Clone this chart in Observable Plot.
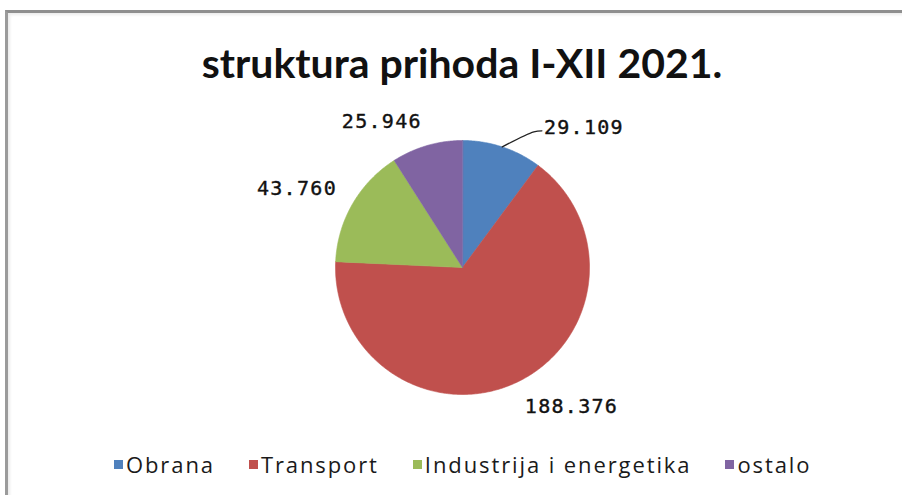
<!DOCTYPE html>
<html><head><meta charset="utf-8">
<script src="https://cdn.jsdelivr.net/npm/d3@7"></script>
<script src="https://cdn.jsdelivr.net/npm/@observablehq/plot@0.6"></script>
<style>
body{margin:0;background:#fff;}
#wrap{position:relative;width:902px;height:495px;overflow:hidden;background:#fff;}
#frame{position:absolute;left:5px;top:10px;right:-10px;bottom:-10px;border-left:3px solid #9b9b9b;border-top:3px solid #8f8f8f;box-shadow:inset 2px 2px 3px rgba(0,0,0,0.08);}
#title{position:absolute;left:0;width:924px;top:42px;text-align:center;font-family:Lato,sans-serif;font-weight:bold;font-size:41px;line-height:41px;color:#111;white-space:nowrap;}
#chart{position:absolute;left:0;top:95px;}
#legend{position:absolute;left:114px;top:454px;display:flex;align-items:center;font-family:"Open Sans",sans-serif;font-size:22px;line-height:21px;letter-spacing:1.9px;color:#1a1a1a;white-space:nowrap;}
#legend .item{display:flex;align-items:center;margin-right:34px;}
#legend .sw{width:9px;height:9px;margin-right:3px;}
</style>
</head><body>
<div id="wrap">
  <div id="frame"></div>
  <div id="title"></div>
  <div id="chart"></div>
  <div id="legend"></div>
</div>
<script>
// ---- data ----
const titleText = "struktura prihoda I-XII 2021.";
const categories = ["Obrana", "Transport", "Industrija i energetika", "ostalo"];
const values = [29109, 188376, 43760, 25946];
const colors = ["#4F81BD", "#C0504D", "#9BBB59", "#8064A2"];

// ---- layout constants ----
const W = 902, H = 350;       // svg size
const R = 127;                // pie radius in px
const CX = 462, CY = 172;     // pie centre inside svg
const labelGap = 18;          // px outside the rim
const callout = {Obrana: [36, 4]}; // label moved with a leader line (px right, px down)

const fmt = d3.formatLocale({decimal: ",", thousands: ".", grouping: [3], currency: ["", ""]}).format(",d");

const rows = categories.map((c, i) => ({name: c, value: values[i]}));
const arcs = d3.pie().sort(null).value(d => d.value).startAngle(0).endAngle(2 * Math.PI)(rows);

// slice outlines in pie units (radius = 1)
const pts = [];
for (const a of arcs) {
  const name = a.data.name;
  pts.push({name, x: 0, y: 0});
  const n = Math.max(2, Math.ceil((a.endAngle - a.startAngle) / (Math.PI / 360)));
  for (let k = 0; k <= n; k++) {
    const t = a.startAngle + (a.endAngle - a.startAngle) * k / n;
    pts.push({name, x: Math.sin(t), y: Math.cos(t)});
  }
}

// labels
const lr = 1 + labelGap / R;
const labels = arcs.map(a => {
  const m = (a.startAngle + a.endAngle) / 2;
  const s = callout[a.data.name] || [0, 0];
  return {
    name: a.data.name,
    text: fmt(a.data.value),
    mid: m,
    x: Math.sin(m) * lr + s[0] / R,
    y: Math.cos(m) * lr - s[1] / R,
    anchor: Math.sin(m) >= 0 || s[0] > 0 ? "start" : "end",
    vert: Math.cos(m) >= 0 ? "bottom" : "top",
    callout: s[0] !== 0 || s[1] !== 0
  };
});
const leaders = [];
for (const l of labels.filter(d => d.callout)) {
  leaders.push({name: l.name, x: Math.sin(l.mid), y: Math.cos(l.mid)});
  leaders.push({name: l.name, x: l.x - 10 / R, y: l.y + 2 / R});
  leaders.push({name: l.name, x: l.x - 2 / R, y: l.y + 3 / R});
}

const textOpts = {x: "x", y: "y", text: "text", fontFamily: "DejaVu Sans Mono", fontSize: 20, fontWeight: "normal", fill: "#111", stroke: "#111", strokeWidth: 0.4};

const plot = Plot.plot({
  width: W, height: H,
  marginTop: 0, marginRight: 0, marginBottom: 0, marginLeft: 0,
  x: {domain: [-CX / R, (W - CX) / R], axis: null},
  y: {domain: [-(H - CY) / R, CY / R], axis: null},
  color: {domain: categories, range: colors},
  style: {background: "transparent", overflow: "visible", letterSpacing: "1.3px"},
  marks: [
    Plot.line(pts, {x: "x", y: "y", z: "name", fill: "name", stroke: "name", strokeWidth: 0.6, curve: "linear-closed"}),
    Plot.line(leaders, {x: "x", y: "y", z: "name", stroke: "#222", strokeWidth: 1.3, curve: "catmull-rom"}),
    Plot.text(labels, {...textOpts, filter: d => d.anchor === "start" && d.vert === "bottom", textAnchor: "start", lineAnchor: "bottom"}),
    Plot.text(labels, {...textOpts, filter: d => d.anchor === "start" && d.vert === "top", textAnchor: "start", lineAnchor: "top"}),
    Plot.text(labels, {...textOpts, filter: d => d.anchor === "end" && d.vert === "bottom", textAnchor: "end", lineAnchor: "bottom"}),
    Plot.text(labels, {...textOpts, filter: d => d.anchor === "end" && d.vert === "top", textAnchor: "end", lineAnchor: "top"})
  ]
});
document.getElementById("chart").appendChild(plot);
document.getElementById("title").textContent = titleText;

const leg = document.getElementById("legend");
categories.forEach((c, i) => {
  const it = document.createElement("div"); it.className = "item";
  const sw = document.createElement("div"); sw.className = "sw"; sw.style.background = colors[i];
  const tx = document.createElement("span"); tx.textContent = c;
  it.appendChild(sw); it.appendChild(tx); leg.appendChild(it);
});
</script>
</body></html>
